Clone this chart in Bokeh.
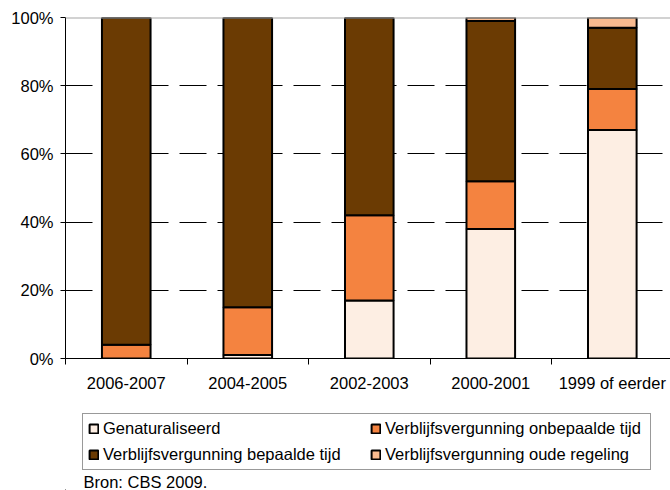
from bokeh.plotting import figure
from bokeh.layouts import column
from bokeh.models import (Range1d, FixedTicker, Legend, LegendItem, Span, Label)
from bokeh.embed import file_html
from bokeh.resources import INLINE

categories = ["2006-2007", "2004-2005", "2002-2003", "2000-2001", "1999 of eerder"]
genaturaliseerd = [0, 1, 17, 38, 67]
onbepaald = [4, 14, 25, 14, 12]
bepaald = [96, 85, 58, 47, 18]
oude_regeling = [0, 0, 0, 1, 3]
series_names = ["Genaturaliseerd", "Verblijfsvergunning onbepaalde tijd",
                "Verblijfsvergunning bepaalde tijd", "Verblijfsvergunning oude regeling"]
colors = ["#FDEEE3", "#F48340", "#6B3B03", "#F9BA8F"]
y_ticks = [0, 20, 40, 60, 80, 100]
source_text = "Bron: CBS 2009."

FONT = "Liberation Sans"
FS = "16.5px"

xs = [i + 0.5 for i in range(len(categories))]
data = dict(x=xs, g=genaturaliseerd, o=onbepaald, b=bepaald, r=oude_regeling)

p = figure(width=670, height=400, output_backend="svg", toolbar_location=None,
           x_range=Range1d(0, 4.979), y_range=Range1d(0, 100),
           min_border_left=65, min_border_right=0, min_border_top=17, min_border_bottom=42)
p.outline_line_color = None
p.xgrid.grid_line_color = None
p.ygrid.ticker = FixedTicker(ticks=[20, 40, 60, 80])
p.ygrid.grid_line_color = "black"
p.ygrid.grid_line_dash = "27 11"
p.ygrid.grid_line_width = 1

top_line = Span(location=100, dimension="width", line_color="#a6a6a6", line_width=2)
p.add_layout(top_line)

p.vbar_stack(["g", "o", "b", "r"], x="x", width=0.4, source=data,
             fill_color=colors, line_color="black", line_width=2)

p.yaxis.ticker = FixedTicker(ticks=y_ticks)
p.yaxis.major_label_overrides = {t: f"{t}%" for t in y_ticks}
p.yaxis.axis_line_color = "black"
p.yaxis.major_tick_line_color = "black"
p.yaxis.major_tick_out = 5
p.yaxis.major_tick_in = 0
p.yaxis.minor_tick_line_color = None
p.yaxis.major_label_standoff = 7
p.yaxis.major_label_text_font = FONT
p.yaxis.major_label_text_font_size = FS
p.yaxis.major_label_text_color = "black"

p.xaxis.ticker = FixedTicker(ticks=xs, minor_ticks=[0, 1, 2, 3, 4])
p.xaxis.major_label_overrides = {x: c for x, c in zip(xs, categories)}
p.xaxis.axis_line_color = "black"
p.xaxis.major_tick_line_color = None
p.xaxis.major_tick_out = 0
p.xaxis.major_tick_in = 0
p.xaxis.minor_tick_line_color = "black"
p.xaxis.minor_tick_out = 6
p.xaxis.minor_tick_in = 0
p.xaxis.major_label_standoff = 9
p.xaxis.major_label_text_font = FONT
p.xaxis.major_label_text_font_size = FS
p.xaxis.major_label_text_color = "black"

# legend / source panel
p2 = figure(width=670, height=90, output_backend="svg", toolbar_location=None,
            x_range=Range1d(0, 1), y_range=Range1d(0, 1),
            x_axis_location=None, y_axis_location=None,
            min_border_left=0, min_border_right=0, min_border_top=0, min_border_bottom=0)
p2.outline_line_color = None
p2.grid.grid_line_color = None
legend_src = dict(x=[-5], g=[0], o=[0], b=[0], r=[0])
dummies = p2.vbar_stack(["g", "o", "b", "r"], x="x", width=0.4, source=legend_src,
                        fill_color=colors, line_color="black", line_width=2)

items = [LegendItem(label=n, renderers=[r]) for n, r in zip(series_names, dummies)]
legend = Legend(items=items, location=(17, 20), orientation="horizontal", ncols=2,
                glyph_width=11, glyph_height=11, label_standoff=4, label_width=260,
                label_height=14, spacing=7, padding=5, margin=0,
                border_line_color="#333333", border_line_width=1,
                background_fill_color="white", background_fill_alpha=1,
                label_text_font=FONT, label_text_font_size=FS, label_text_color="black")
p2.add_layout(legend, "center")

src = Label(x=18, y=9, x_units="screen", y_units="screen", text=source_text,
            text_font=FONT, text_font_size=FS, text_color="black", text_baseline="middle")
p2.add_layout(src)

layout = column(p, p2, spacing=0)
open("out.html", "w").write(file_html(layout, INLINE))
